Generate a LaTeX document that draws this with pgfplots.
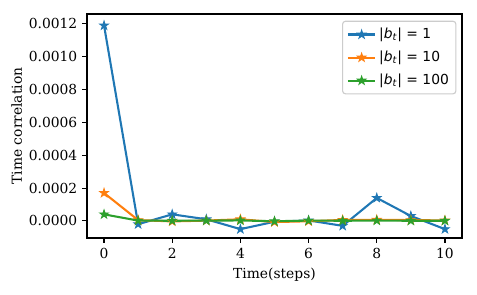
\documentclass[border=0pt]{standalone}
\usepackage{pgfplots}
\pgfplotsset{compat=1.18}
\usepackage{fontspec}
\setmainfont{DejaVu Serif}
\newfontfamily\dvs{DejaVu Sans}
\definecolor{tblue}{HTML}{1F77B4}
\definecolor{torange}{HTML}{FF7F0E}
\definecolor{tgreen}{HTML}{2CA02C}
\pgfdeclareplotmark{fstar}{%
 \pgfpathmoveto{\pgfpointpolar{90}{\pgfplotmarksize}}%
 \pgfpathlineto{\pgfpointpolar{126}{0.382\pgfplotmarksize}}%
 \pgfpathlineto{\pgfpointpolar{162}{\pgfplotmarksize}}%
 \pgfpathlineto{\pgfpointpolar{198}{0.382\pgfplotmarksize}}%
 \pgfpathlineto{\pgfpointpolar{234}{\pgfplotmarksize}}%
 \pgfpathlineto{\pgfpointpolar{270}{0.382\pgfplotmarksize}}%
 \pgfpathlineto{\pgfpointpolar{306}{\pgfplotmarksize}}%
 \pgfpathlineto{\pgfpointpolar{342}{0.382\pgfplotmarksize}}%
 \pgfpathlineto{\pgfpointpolar{18}{\pgfplotmarksize}}%
 \pgfpathlineto{\pgfpointpolar{54}{0.382\pgfplotmarksize}}%
 \pgfpathclose
 \pgfusepathqfillstroke}
\newcommand{\leg}[1]{{\dvs|\textit{b}\textsubscript{\textit{t}}|\ =\ #1}}
\begin{document}
\begin{tikzpicture}
\begin{axis}[
  scale only axis,
  width=3.75in, height=2.24in,
  xmin=-0.5, xmax=10.5,
  ymin=-0.000104, ymax=0.00126,
  xtick={0,2,4,6,8,10},
  ytick={0,0.0002,0.0004,0.0006,0.0008,0.0010,0.0012},
  scaled y ticks=false,
  yticklabel style={/pgf/number format/.cd,fixed,fixed zerofill,precision=4},
  /pgf/number format/assume math mode=true,
  tick align=outside,
  tick pos=left,
  major tick length=3.5pt,
  axis line style={line width=0.8pt},
  every tick/.style={line width=0.8pt,black},
  tick label style={font=\fontsize{10}{12}\selectfont},
  label style={font=\fontsize{10}{12}\selectfont},
  xlabel={Time(steps)},
  ylabel={Time correlation},
  ylabel style={yshift=-2pt},
  legend style={font=\fontsize{10}{12}\selectfont, draw=black!20, rounded corners=2pt, line width=0.8pt, inner sep=3pt, row sep=3.5pt, at={(0.985,0.97)}, anchor=north east},
  legend cell align=left,
  legend image code/.code={\draw[mark=none] (0cm,0cm) -- (0.7cm,0cm); \draw plot[only marks] coordinates {(0.35cm,0cm)};},
  every axis plot/.append style={line width=1.5pt, mark=fstar, mark size=3.3pt, mark options={line width=0.6pt}},
]
\addplot[color=tblue] coordinates {(0,0.00119) (1,-0.00002) (2,0.00004) (3,0.00001) (4,-0.00005) (5,-0.000005) (6,0.000003) (7,-0.00003) (8,0.00014) (9,0.00003) (10,-0.00005)};
\addlegendentry{\leg{1}}
\addplot[color=torange] coordinates {(0,0.00017) (1,0.000005) (2,-0.000003) (3,0.000002) (4,0.00001) (5,-0.000007) (6,-0.000002) (7,0.000006) (8,0.000007) (9,0.000005) (10,0.000003)};
\addlegendentry{\leg{10}}
\addplot[color=tgreen] coordinates {(0,0.00004) (1,0.000002) (2,0.000001) (3,0.000002) (4,0.000003) (5,-0.000002) (6,0.000002) (7,0.000001) (8,0.000002) (9,0.000001) (10,0.000001)};
\addlegendentry{\leg{100}}
\coordinate (ll) at (rel axis cs:0,0);
\coordinate (ur) at (rel axis cs:1,1);
\end{axis}
\path[use as bounding box] ([xshift=-0.87in,yshift=-0.57in]ll) rectangle ([xshift=0.15in,yshift=0.14in]ur);
\end{tikzpicture}
\end{document}
